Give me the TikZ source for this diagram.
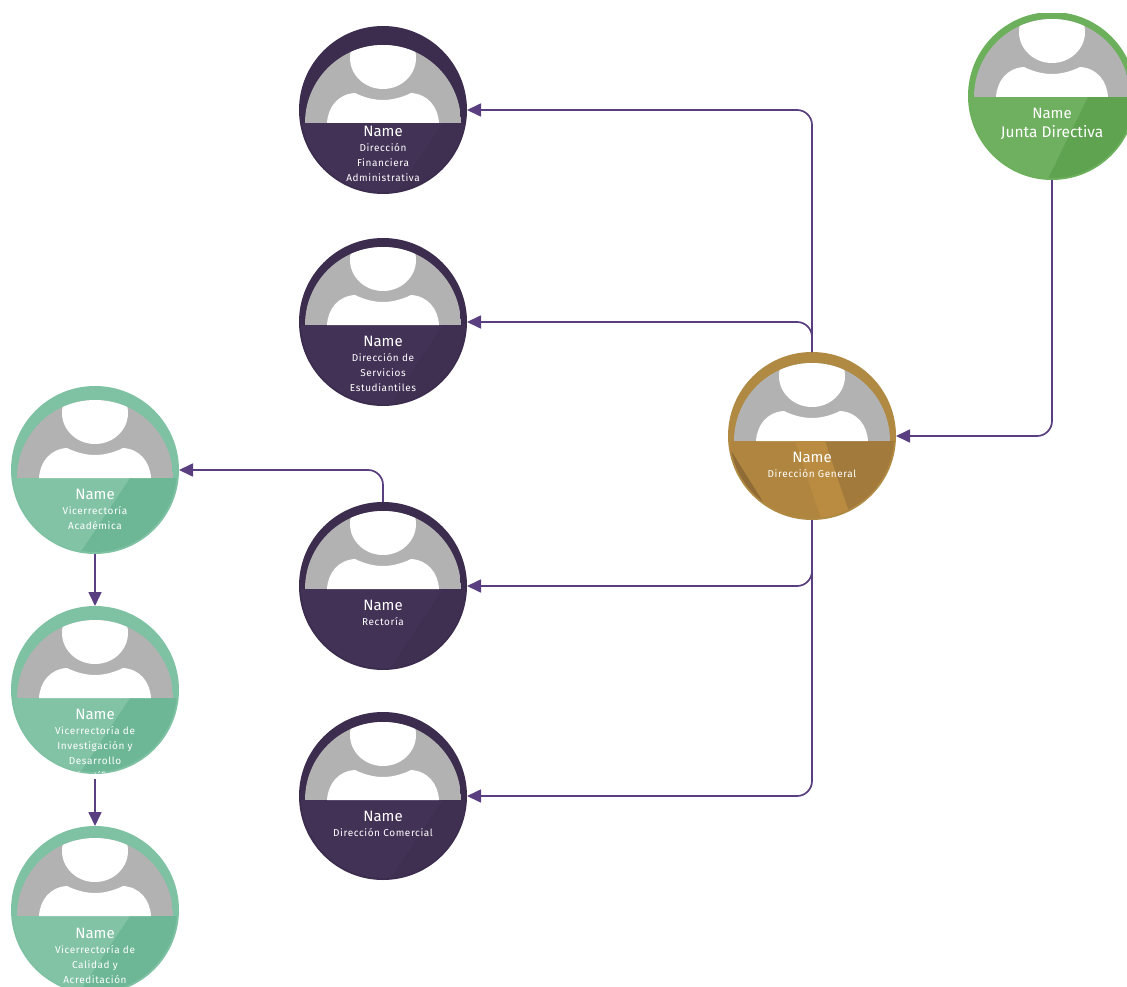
\documentclass[tikz,border=0pt]{standalone}
\usepackage{fontspec}
\setmainfont{Fira Sans}
\newfontfamily\detailfont[LetterSpace=6]{Fira Sans}
\usetikzlibrary{arrows.meta,positioning}

\definecolor{purplering}{HTML}{3C2C4E}
\definecolor{purplebase}{HTML}{423256}
\definecolor{purpledark}{HTML}{3F2F51}
\definecolor{greenring}{HTML}{6CB05B}
\definecolor{greenbase}{HTML}{6FB060}
\definecolor{greendark}{HTML}{5FA24F}
\definecolor{tealring}{HTML}{7FC1A3}
\definecolor{tealbase}{HTML}{82C3A6}
\definecolor{tealdark}{HTML}{6DB796}
\definecolor{goldring}{HTML}{B08A42}
\definecolor{goldbase}{HTML}{B0853F}
\definecolor{golddark}{HTML}{A27A3B}
\definecolor{goldlight}{HTML}{BA8C42}
\definecolor{goldshade}{HTML}{8F6C36}
\definecolor{photogray}{HTML}{B2B2B2}
\definecolor{connector}{HTML}{5A3F80}

\tikzset{
  personnode/.style={circle,draw=#1ring,fill=#1ring,line width=3pt,minimum size=165pt,inner sep=0pt},
  namelabel/.style={text=white,font=\fontsize{15}{15}\selectfont,inner sep=0pt},
  detaillabel/.style={text=white,font=\detailfont\fontsize{10}{15}\selectfont,align=center,inner sep=0pt},
  bigdetail/.style={text=white,font=\fontsize{15.5}{15.5}\selectfont,align=center,inner sep=0pt},
  conn/.style={->,draw=connector,line width=1.7pt,rounded corners=15pt},
}

% #1 name, #2 x, #3 y, #4 y of band, #5 colour, #6 #7 facet top and bottom offset
\newcommand{\personcard}[7]{
  \node[personnode=#5] (#1) at (#2,#3) {};
  \begin{scope}
    \clip (#2,#3) circle (82);
    \fill[#5base] (#2-90,#4) rectangle (#2+90,#4+90);
    \fill[#5dark] (#2+#6,#4) -- (#2+#7,#4+90) -- (#2+90,#4+90) -- (#2+90,#4) -- cycle;
    \begin{scope}[shift={(#2,#4)}]
      \clip (-90,0) rectangle (90,-90);
      \clip (0,0) circle (78);
      \fill[photogray] (-78,0) rectangle (78,-78);
      \fill[white] (0,-65) ellipse (33 and 31);
      \fill[white] (-56,0) .. controls (-55,-16) and (-45,-29) .. (-28,-30)
        .. controls (-20,-26) and (-10,-23) .. (0,-23)
        .. controls (10,-23) and (20,-26) .. (28,-30)
        .. controls (45,-29) and (55,-16) .. (56,0) -- cycle;
    \end{scope}
  \end{scope}
}

% #1 style of details, #2 name, #3 x, #4 y of card, #5 y of label, #6 details
\newcommand{\persontext}[6][detaillabel]{
  \begin{scope}
    \clip (#3,#4) circle (83);
    \node[namelabel] (#2name) at (#3,#5) {Name};
    \node[#1,below=7pt of #2name] (#2details) {#6};
  \end{scope}
}

\begin{document}
\begin{tikzpicture}[x=1pt,y=-1pt,>={Triangle[length=14pt,width=13pt]}]
  \useasboundingbox (0,0) rectangle (1127,987);
  \clip (0,0) rectangle (1127,987);

  \personcard{financiera}{383}{110}{123}{purple}{60}{0}
  \persontext{financiera}{383}{110}{131}{Dirección\\Financiera\\Administrativa}
  \personcard{servicios}{383}{322}{325}{purple}{60}{0}
  \persontext{servicios}{383}{322}{341}{Dirección de\\Servicios\\Estudiantiles}
  \personcard{rectoria}{383}{586}{589}{purple}{60}{0}
  \persontext{rectoria}{383}{586}{605}{Rectoría}
  \personcard{comercial}{383}{796}{800}{purple}{60}{0}
  \persontext{comercial}{383}{796}{816}{Dirección Comercial}

  \personcard{academica}{95}{470}{478}{teal}{35}{-25}
  \persontext{academica}{95}{470}{494}{Vicerrectoría\\Académica}
  \personcard{investigacion}{95}{690}{698}{teal}{35}{-25}
  \persontext{investigacion}{95}{690}{714}{Vicerrectoría de\\Investigación y\\Desarrollo\\Científico}
  \personcard{calidad}{95}{910}{916}{teal}{35}{-25}
  \persontext{calidad}{95}{910}{933}{Vicerrectoría de\\Calidad y\\Acreditación}

  \personcard{junta}{1052}{96}{97}{green}{36}{-8}
  \persontext[bigdetail]{junta}{1052}{96}{113}{Junta Directiva}
  \fill[white] (950,0) rectangle (1127,13);

  \personcard{general}{812}{436}{441}{gold}{13}{40}
  \begin{scope}
    \clip (812,436) circle (82);
    \fill[goldlight] (795,441) -- (825,530) -- (855,530) -- (825,441) -- cycle;
    \fill[goldshade] (725,441) -- (765,505) -- (725,505) -- cycle;
  \end{scope}
  \persontext{general}{812}{436}{457}{Dirección General}

  \draw[conn] (junta) |- (general);
  \draw[conn] (general) |- (financiera);
  \draw[conn] (general) |- (servicios);
  \draw[conn] (general) |- (rectoria);
  \draw[conn] (general) |- (comercial);
  \draw[conn] (rectoria) |- (academica);
  \draw[conn] (academica) -- (investigacion);
  \draw[conn,shorten <=5pt] (investigacion) -- (calidad);
\end{tikzpicture}
\end{document}
